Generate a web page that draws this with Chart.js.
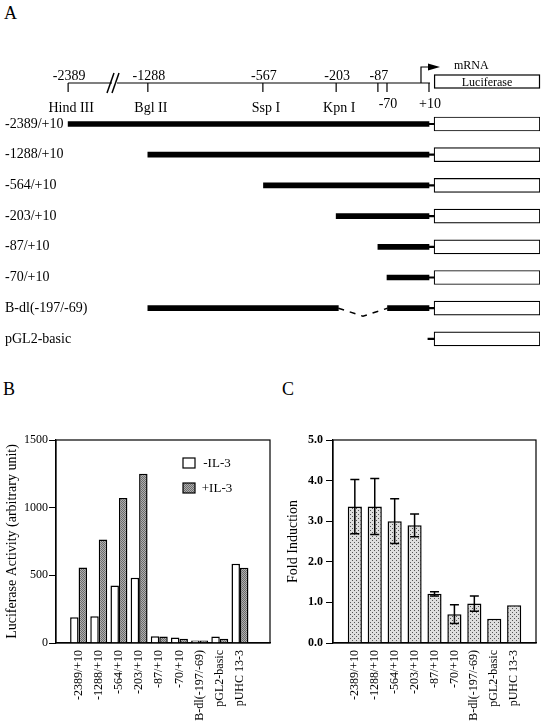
<!DOCTYPE html>
<html lang="en">
  <head>
    <meta charset="UTF-8" />
    <title>Promoter deletion constructs and luciferase activity</title>
    <script src="https://cdn.jsdelivr.net/npm/chart.js"></script>
    <style>
      body { margin: 0; background: #fff; }
      #fig { position: relative; width: 544px; height: 726px; font-family: 'Liberation Serif', 'Times New Roman', serif; }
      canvas { position: absolute; }
      .letter { position: absolute; font-size: 18px; line-height: 18px; color: #000; }
    </style>
  </head>
  <body>
    <div id="fig">
      <div class="letter" style="left:4px; top:4px">A</div>
      <div class="letter" style="left:3px; top:380px">B</div>
      <div class="letter" style="left:282px; top:380px">C</div>
      <canvas id="mapChart" width="544" height="372" style="left:0; top:0"></canvas>
      <canvas id="activityChart" width="272" height="306" style="left:0; top:420px"></canvas>
      <canvas id="foldChart" width="272" height="306" style="left:272px; top:420px"></canvas>
    </div>

    <script>
      // ---- panel A: restriction map + deletion constructs ----
      const siteBp = [-2389, -1288, -567, -203, -87, -70, 10];
      const siteLabels = ["-2389", "-1288", "-567", "-203", "-87", "-70", "+10"];
      const siteNames = ["Hind III", "Bgl II", "Ssp I", "Kpn I", "", "", ""];
      // the map is not drawn to scale: schematic position of each site (0-100 of map width)
      const siteMapPos = [11.8, 26.7, 48.2, 61.9, 69.7, 71.4, 79.25];
      const lucMapPos = [80.2, 100]; // luciferase box
      const breakMapPos = 20.56; // "//" between -2389 and -1288

      const constructs = ["-2389/+10", "-1288/+10", "-564/+10", "-203/+10", "-87/+10", "-70/+10", "B-dl(-197/-69)", "pGL2-basic"];
      const insertStart = [-2389, -1288, -564, -203, -87, -70, -1288, null];
      const insertEnd = [10, 10, 10, 10, 10, 10, 10, null];
      const deletionFrom = [null, null, null, null, null, null, -197, null];
      const deletionTo = [null, null, null, null, null, null, -69, null];

      // ---- panel B: luciferase activity ----
      const lanes = ["-2389/+10", "-1288/+10", "-564/+10", "-203/+10", "-87/+10", "-70/+10", "B-dl(-197/-69)", "pGL2-basic", "pUHC 13-3"];
      const minusIL3 = [190, 197, 425, 482, 50, 40, 18, 48, 586];
      const plusIL3 = [558, 765, 1072, 1250, 48, 32, 18, 32, 556];

      // ---- panel C: fold induction ----
      const foldInduction = [3.36, 3.36, 3.0, 2.9, 1.21, 0.71, 0.97, 0.6, 0.93];
      const foldError = [0.67, 0.69, 0.55, 0.28, 0.05, 0.23, 0.19, null, null];

      Chart.defaults.font.family = "'Liberation Serif', 'Times New Roman', serif";
      Chart.defaults.color = "#000";

      // piecewise placement of a bp coordinate on the schematic map
      function bpToMap(bp) {
        for (let i = 0; i < siteBp.length - 1; i++) {
          if (bp <= siteBp[i + 1]) {
            const t = (bp - siteBp[i]) / (siteBp[i + 1] - siteBp[i]);
            return siteMapPos[i] + t * (siteMapPos[i + 1] - siteMapPos[i]);
          }
        }
        return siteMapPos[siteMapPos.length - 1];
      }

      const seg5 = constructs.map((c, i) =>
        insertStart[i] == null ? null : [bpToMap(insertStart[i]), bpToMap(deletionFrom[i] ?? insertEnd[i])]
      );
      const seg3 = constructs.map((c, i) =>
        deletionTo[i] == null ? null : [bpToMap(deletionTo[i]), bpToMap(insertEnd[i])]
      );
      const vectorSeg = constructs.map(() => [bpToMap(10) - 0.2, lucMapPos[0]]);
      const lucSeg = constructs.map(() => lucMapPos);

      // draws the restriction map above the constructs and the deletion bracket
      const mapHeader = {
        id: "mapHeader",
        afterDraw(chart) {
          const { ctx, scales: { x, y } } = chart;
          const px = (bp) => x.getPixelForValue(bpToMap(bp));
          const lineY = 83;
          const labelBelow = ["-70", "+10"];
          ctx.save();
          ctx.strokeStyle = "#000";
          ctx.fillStyle = "#000";
          ctx.lineWidth = 1.2;

          // backbone
          ctx.beginPath();
          ctx.moveTo(px(siteBp[0]), lineY);
          ctx.lineTo(px(10) + 1, lineY);
          ctx.stroke();

          // break marks
          const bx = x.getPixelForValue(breakMapPos);
          ctx.fillStyle = "#fff";
          ctx.fillRect(bx - 3, lineY - 2, 5, 4);
          ctx.fillStyle = "#000";
          ctx.lineWidth = 1.5;
          [-5, 0].forEach((a) => {
            ctx.beginPath();
            ctx.moveTo(bx + a - 3, lineY + 10);
            ctx.lineTo(bx + a + 4, lineY - 10);
            ctx.stroke();
          });
          ctx.lineWidth = 1.2;

          // site ticks, positions and enzyme names
          ctx.textAlign = "center";
          ctx.textBaseline = "alphabetic";
          siteBp.forEach((bp, i) => {
            const sx = px(bp);
            ctx.beginPath();
            ctx.moveTo(sx, lineY);
            ctx.lineTo(sx, lineY + 9);
            ctx.stroke();
            ctx.font = "14px 'Liberation Serif'";
            if (labelBelow.includes(siteLabels[i])) {
              ctx.fillText(siteLabels[i], sx + 1, 107.5);
            } else {
              ctx.fillText(siteLabels[i], sx + 1, 80);
            }
            if (siteNames[i]) ctx.fillText(siteNames[i], sx + 3, 112);
          });

          // transcription start arrow
          const ax = px(10) - 8;
          ctx.beginPath();
          ctx.moveTo(ax, lineY);
          ctx.lineTo(ax, 67);
          ctx.lineTo(ax + 9, 67);
          ctx.stroke();
          ctx.beginPath();
          ctx.moveTo(ax + 19, 67);
          ctx.lineTo(ax + 7, 63.5);
          ctx.lineTo(ax + 7, 70.5);
          ctx.closePath();
          ctx.fill();
          ctx.font = "12px 'Liberation Serif'";
          ctx.textAlign = "left";
          ctx.fillText("mRNA", ax + 33, 68.5);

          // luciferase reporter box
          const l0 = x.getPixelForValue(lucMapPos[0]);
          const l1 = x.getPixelForValue(lucMapPos[1]);
          ctx.strokeRect(l0 + 0.5, 75, l1 - l0 - 1, 13);
          ctx.textAlign = "center";
          ctx.fillText("Luciferase", (l0 + l1) / 2, 85.5);

          // deleted region drawn as a dashed bracket
          ctx.lineWidth = 1.5;
          ctx.setLineDash([6, 6]);
          constructs.forEach((c, i) => {
            if (deletionFrom[i] == null) return;
            const yr = y.getPixelForValue(i);
            const d0 = px(deletionFrom[i]);
            const d1 = px(deletionTo[i]);
            ctx.beginPath();
            ctx.moveTo(d0, yr);
            ctx.lineTo((d0 + d1) / 2, yr + 8);
            ctx.lineTo(d1, yr);
            ctx.stroke();
          });
          ctx.restore();
        },
      };

      new Chart(document.getElementById("mapChart"), {
        type: "bar",
        data: {
          labels: constructs,
          datasets: [
            { label: "insert", data: seg5, backgroundColor: "#000", barThickness: 5 },
            { label: "insert 3'", data: seg3, backgroundColor: "#000", barThickness: 5 },
            { label: "vector", data: vectorSeg, backgroundColor: "#000", barThickness: 1.5 },
            {
              label: "luciferase",
              data: lucSeg,
              backgroundColor: "#fff",
              borderColor: "#000",
              borderWidth: 1.2,
              borderSkipped: false,
              barThickness: 14,
            },
          ],
        },
        options: {
          indexAxis: "y",
          responsive: false,
          animation: false,
          layout: { padding: { left: 5, right: 4, top: 108.65, bottom: 17.75 } },
          datasets: { bar: { grouped: false } },
          plugins: { legend: { display: false }, tooltip: { enabled: false } },
          scales: {
            x: { type: "linear", min: 0, max: 100, display: false },
            y: {
              grid: { display: false, drawTicks: false },
              border: { display: false },
              ticks: { mirror: true, crossAlign: "near", padding: 0, font: { size: 14 } },
            },
          },
        },
        plugins: [mapHeader],
      });

      // stipple fills
      function stipple(canvasId, light, dark, size, dots) {
        const c = document.createElement("canvas");
        c.width = c.height = size;
        const g = c.getContext("2d");
        g.fillStyle = light;
        g.fillRect(0, 0, size, size);
        g.fillStyle = dark;
        dots.forEach(([a, b]) => g.fillRect(a, b, 1, 1));
        return document.getElementById(canvasId).getContext("2d").createPattern(c, "repeat");
      }
      const greyFill = stipple("activityChart", "#b0b0b0", "#6a6a6a", 2, [[0, 0], [1, 1]]);
      const dotFill = stipple("foldChart", "#dedede", "#555", 4, [[0, 0], [2, 2]]);

      const frame = {
        id: "frame",
        afterDraw(chart) {
          const { ctx, chartArea: a } = chart;
          ctx.save();
          ctx.strokeStyle = "#000";
          ctx.lineWidth = 1.2;
          ctx.strokeRect(a.left, a.top, a.right - a.left, a.bottom - a.top);
          ctx.restore();
        },
      };

      const legendBoxes = {
        id: "legendBoxes",
        afterDraw(chart) {
          const { ctx, chartArea: a } = chart;
          ctx.save();
          ctx.font = "13px 'Liberation Serif'";
          ctx.textAlign = "center";
          ctx.textBaseline = "middle";
          chart.data.datasets.forEach((ds, i) => {
            const by = a.top + 18 + i * 25;
            ctx.fillStyle = ds.backgroundColor;
            ctx.fillRect(a.left + 127, by, 12, 10);
            ctx.strokeStyle = "#000";
            ctx.lineWidth = 1.2;
            ctx.strokeRect(a.left + 127, by, 12, 10);
            ctx.fillStyle = "#000";
            ctx.fillText(ds.label, a.left + 161, by + 5.5);
          });
          ctx.restore();
        },
      };

      const errorBars = {
        id: "errorBars",
        afterDatasetsDraw(chart) {
          const { ctx, scales: { x, y } } = chart;
          ctx.save();
          ctx.strokeStyle = "#000";
          ctx.lineWidth = 1.5;
          foldInduction.forEach((v, i) => {
            const e = foldError[i];
            if (e == null) return;
            const cx = x.getPixelForValue(i);
            const y0 = y.getPixelForValue(v - e);
            const y1 = y.getPixelForValue(v + e);
            ctx.beginPath();
            ctx.moveTo(cx, y0);
            ctx.lineTo(cx, y1);
            ctx.moveTo(cx - 4.5, y0);
            ctx.lineTo(cx + 4.5, y0);
            ctx.moveTo(cx - 4.5, y1);
            ctx.lineTo(cx + 4.5, y1);
            ctx.stroke();
          });
          ctx.restore();
        },
      };

      function laneAxis(max) {
        return {
          type: "linear",
          min: -0.53,
          max: max,
          afterBuildTicks: (ax) => { ax.ticks = lanes.map((l, i) => ({ value: i })); },
          afterFit: (ax) => { ax.height = 83; },
          grid: { drawOnChartArea: false, drawTicks: false },
          border: { color: "#000", width: 1.2 },
          ticks: {
            autoSkip: false,
            minRotation: 90,
            maxRotation: 90,
            padding: 7,
            font: { size: 12 },
            callback: (v) => lanes[v],
          },
        };
      }

      // panel B
      new Chart(document.getElementById("activityChart"), {
        type: "bar",
        data: {
          datasets: [
            {
              label: "-IL-3",
              data: minusIL3.map((v, i) => ({ x: i, y: v })),
              backgroundColor: "#fff",
              borderColor: "#000",
              borderWidth: 1.5,
            },
            {
              label: "+IL-3",
              data: plusIL3.map((v, i) => ({ x: i, y: v })),
              backgroundColor: greyFill,
              borderColor: "#000",
              borderWidth: 1.5,
            },
          ],
        },
        options: {
          responsive: false,
          animation: false,
          layout: { padding: { top: 20, right: 2, left: 0, bottom: 0 } },
          datasets: { bar: { categoryPercentage: 0.84, barPercentage: 1 } },
          plugins: { legend: { display: false }, tooltip: { enabled: false } },
          scales: {
            x: laneAxis(8.9),
            y: {
              min: 0,
              max: 1500,
              afterFit: (ax) => { ax.width = 56; },
              grid: { drawOnChartArea: false, tickLength: 7, color: "#000" },
              border: { color: "#000", width: 1.2 },
              ticks: { stepSize: 500, padding: 1, font: { size: 12 }, callback: (v) => String(v) },
              title: {
                display: true,
                text: "Luciferase Activity (arbitrary unit)",
                font: { size: 14 },
                padding: { top: 4, bottom: 0 },
              },
            },
          },
        },
        plugins: [frame, legendBoxes],
      });

      // panel C
      new Chart(document.getElementById("foldChart"), {
        type: "bar",
        data: {
          datasets: [
            {
              label: "Fold Induction",
              data: foldInduction.map((v, i) => ({ x: i, y: v })),
              backgroundColor: dotFill,
              borderColor: "#000",
              borderWidth: 1.5,
            },
          ],
        },
        options: {
          responsive: false,
          animation: false,
          layout: { padding: { top: 20, right: 8, left: 10, bottom: 0 } },
          datasets: { bar: { categoryPercentage: 0.71, barPercentage: 1 } },
          plugins: { legend: { display: false }, tooltip: { enabled: false } },
          scales: {
            x: laneAxis(8.53),
            y: {
              min: 0,
              max: 5,
              afterFit: (ax) => { ax.width = 51; },
              grid: { drawOnChartArea: false, tickLength: 7, color: "#000" },
              border: { color: "#000", width: 1.2 },
              ticks: { stepSize: 1, padding: 3, font: { size: 12, weight: "bold" }, callback: (v) => v.toFixed(1) },
              title: {
                display: true,
                text: "Fold Induction",
                font: { size: 14 },
                padding: { top: 3, bottom: 0 },
              },
            },
          },
        },
        plugins: [frame, errorBars],
      });
    </script>
  </body>
</html>
